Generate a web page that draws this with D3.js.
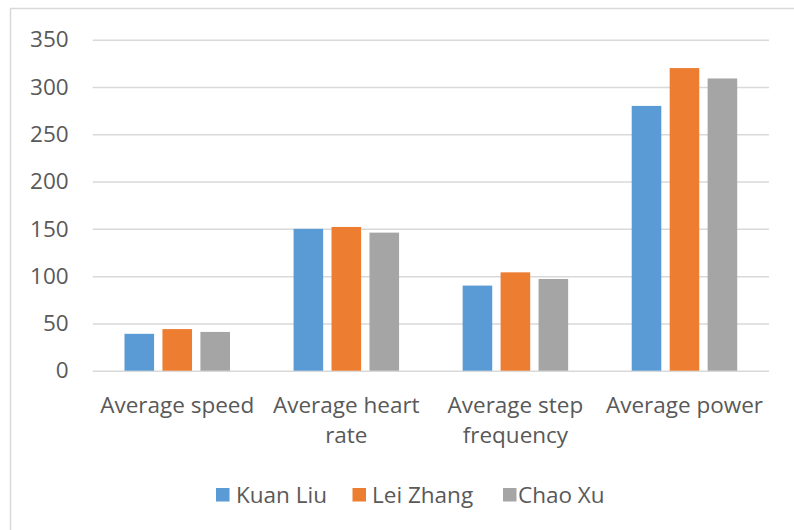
<!DOCTYPE html>
<html>
<head>
<meta charset="utf-8">
<script src="https://cdn.jsdelivr.net/npm/d3@7"></script>
<style>
  html, body { margin: 0; padding: 0; background: #ffffff; }
  svg { display: block; }
  text { font-family: "Open Sans", "Noto Sans", sans-serif; fill: #595959; }
</style>
</head>
<body>
<svg id="chart" width="794" height="530"></svg>
<script>
// Running metrics per athlete
const categories = ["Average speed", "Average heart rate", "Average step frequency", "Average power"];
const seriesNames = ["Kuan Liu", "Lei Zhang", "Chao Xu"];
const kuanLiu  = [39, 150, 90, 280];
const leiZhang = [44, 152, 104, 320];
const chaoXu   = [41, 146, 97, 309];
const yTicks = [0, 50, 100, 150, 200, 250, 300, 350];
const seriesColors = ["#5b9bd5", "#ed7d31", "#a5a5a5"];

const seriesValues = [kuanLiu, leiZhang, chaoXu];

const svg = d3.select("#chart");
const W = 794, H = 530;
const plot = { left: 92.7, right: 769, top: 39.7, bottom: 370.7 };
const fontSize = 22.5;
const fontFamily = '"Open Sans", "Noto Sans", sans-serif';

// chart frame
svg.append("rect")
  .attr("x", 10.5).attr("y", 8.5)
  .attr("width", W + 10).attr("height", H + 10)
  .attr("fill", "#ffffff")
  .attr("stroke", "#d9d9d9").attr("stroke-width", 1.5);

const x = d3.scaleBand().domain(categories).range([plot.left, plot.right]).padding(0);
const y = d3.scaleLinear().domain([0, 350]).range([plot.bottom, plot.top]);

// horizontal gridlines + y labels
const yAxis = svg.append("g")
  .attr("transform", `translate(${plot.left},0)`)
  .call(d3.axisLeft(y).tickValues(yTicks).tickSize(-(plot.right - plot.left)).tickPadding(24));
yAxis.select(".domain").remove();
yAxis.selectAll(".tick line").attr("stroke", "#d9d9d9").attr("stroke-width", 1.5);
yAxis.selectAll(".tick text")
  .attr("font-size", fontSize)
  .style("font-family", fontFamily)
  .attr("fill", "#595959");

// clustered bars
const bw = x.bandwidth();
const barWidth = bw * 0.175;
const barStep = bw * 0.2245;

const groups = svg.append("g").selectAll("g")
  .data(categories)
  .join("g")
  .attr("transform", d => `translate(${x(d) + bw / 2},0)`);

groups.selectAll("rect")
  .data((c, ci) => seriesNames.map((s, si) => ({ s, si, v: seriesValues[si][ci] })))
  .join("rect")
  .attr("x", d => (d.si - 1) * barStep - barWidth / 2)
  .attr("width", barWidth)
  .attr("y", d => y(d.v))
  .attr("height", d => y(0) - y(d.v))
  .attr("fill", d => seriesColors[d.si]);

// category axis with labels wrapped to the band width
const xAxis = svg.append("g")
  .attr("transform", `translate(0,${plot.bottom})`)
  .call(d3.axisBottom(x).tickSize(0).tickPadding(0));
xAxis.select(".domain").remove();
xAxis.selectAll(".tick text")
  .attr("font-size", fontSize)
  .style("font-family", fontFamily)
  .attr("fill", "#595959")
  .attr("y", 0).attr("dy", null)
  .each(function (d) {
    const t = d3.select(this);
    const words = d.split(" ");
    t.text(null);
    const lines = [];
    let cur = [];
    const probe = t.append("tspan");
    words.forEach(w => {
      const test = cur.concat([w]).join(" ");
      probe.text(test);
      if (probe.node().getComputedTextLength() > bw - 4 && cur.length) {
        lines.push(cur.join(" "));
        cur = [w];
      } else {
        cur.push(w);
      }
    });
    lines.push(cur.join(" "));
    probe.remove();
    lines.forEach((ln, i) => {
      t.append("tspan").attr("x", 0).attr("y", 42 + i * 30.5).text(ln);
    });
  });

// legend
const legendItems = [
  { name: seriesNames[0], sq: 216, tx: 236 },
  { name: seriesNames[1], sq: 352.5, tx: 372 },
  { name: seriesNames[2], sq: 503, tx: 518 }
];
const legend = svg.append("g");
legendItems.forEach((it, i) => {
  legend.append("rect")
    .attr("x", it.sq).attr("y", 488).attr("width", 13.5).attr("height", 13.5)
    .attr("fill", seriesColors[i]);
  legend.append("text")
    .attr("x", it.tx).attr("y", 502.5)
    .attr("font-size", fontSize)
    .text(it.name);
});
</script>
</body>
</html>
